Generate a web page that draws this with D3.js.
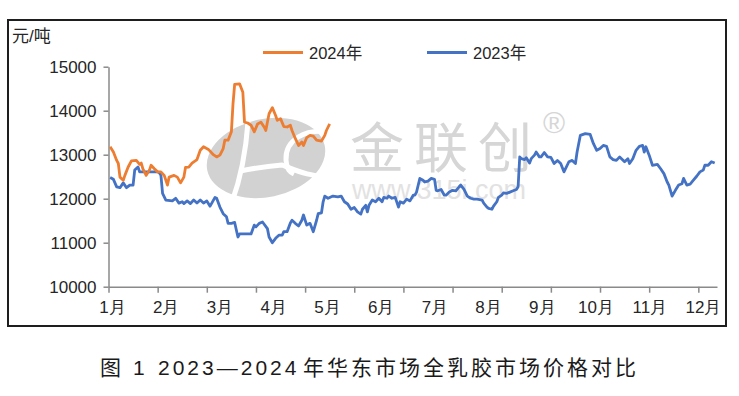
<!DOCTYPE html>
<html>
<head>
<meta charset="utf-8">
<script src="https://cdn.jsdelivr.net/npm/d3@7"></script>
<style>
  body { margin: 0; background: #fff; }
  svg { display: block; font-family: "Liberation Sans", "Noto Sans CJK SC", sans-serif; }
  .axis path, .axis line { stroke: #8a8a8a; stroke-width: 1.5; }
  .axis text { fill: #262626; font-size: 17px; }
  .line { fill: none; stroke-width: 2.8; stroke-linejoin: round; }
</style>
</head>
<body>
<svg id="chart" width="739" height="396"></svg>
<script>
// months on the x axis, values in 元/吨, x given as day of the year
const months = ["1月", "2月", "3月", "4月", "5月", "6月", "7月", "8月", "9月", "10月", "11月", "12月"];
const yTicks = [10000, 11000, 12000, 13000, 14000, 15000];
const seriesNames = ["2024年", "2023年"];

const days2024 = [1, 3, 5, 6, 7, 9, 10, 12, 14, 17, 19, 20, 21, 23, 25, 26, 28, 30, 32, 34,
  36, 37, 40, 42, 44, 46, 47, 49, 51, 54, 56, 58, 61, 64, 66, 68, 70, 71, 73, 75,
  76, 77, 80, 82, 83, 85, 87, 89, 91, 93, 95, 96, 98, 100, 102, 103, 105, 107, 109, 111,
  112, 114, 116, 118, 119, 121, 123, 125, 127, 130, 132, 133, 135];
const values2024 = [13180, 13060, 12870, 12800, 12490, 12420, 12530, 12720, 12860, 12870, 12780, 12810, 12680, 12530, 12650, 12760, 12680, 12610, 12610, 12530,
  12310, 12490, 12530, 12490, 12360, 12490, 12710, 12720, 12810, 12890, 13100, 13180, 13120, 13000, 12950, 12990, 13140, 13330, 13330, 13520,
  14160, 14600, 14610, 14420, 13740, 13720, 13670, 13520, 13700, 13740, 13630, 13550, 13930, 14070, 13890, 13780, 13820, 13640, 13630, 13670,
  13550, 13370, 13210, 13290, 13210, 13390, 13440, 13420, 13330, 13310, 13440, 13550, 13700];

const days2023 = [1, 3, 5, 7, 9, 11, 13, 15, 16, 18, 19, 30, 31, 32, 33, 35, 39, 41, 43, 45,
  46, 48, 50, 52, 54, 56, 58, 60, 62, 65, 66, 68, 70, 72, 73, 75, 77, 79, 80, 84,
  87, 89, 90, 92, 94, 97, 98, 100, 102, 104, 106, 107, 109, 111, 112, 114, 116, 118, 119, 121,
  123, 125, 127, 128, 130, 131, 132, 134, 137, 140, 142, 144, 146, 148, 150, 152, 154, 155, 157, 158,
  159, 161, 163, 165, 167, 168, 170, 171, 173, 175, 177, 178, 180, 182, 184, 186, 187, 188, 190, 192,
  193, 195, 197, 199, 200, 201, 203, 205, 206, 208, 210, 212, 214, 215, 217, 219, 221, 223, 225, 228,
  229, 231, 232, 234, 235, 237, 238, 240, 241, 243, 245, 247, 249, 250, 251, 252, 254, 255, 257, 258,
  260, 261, 263, 264, 266, 268, 270, 272, 274, 276, 278, 281, 283, 285, 286, 288, 291, 294, 296, 298,
  300, 302, 304, 306, 308, 310, 312, 315, 317, 318, 320, 322, 324, 326, 327, 328, 330, 332, 335, 337,
  339, 341, 342, 344, 346, 348, 350, 351, 353, 355, 357, 359, 361, 363, 364, 366, 368, 370];
const values2023 = [12480, 12440, 12270, 12250, 12360, 12250, 12310, 12310, 12650, 12720, 12610, 12610, 12590, 12530, 12120, 11970, 11950, 12010, 11900, 11930,
  11890, 11950, 11890, 11970, 11900, 11970, 11900, 11950, 11830, 12030, 12010, 11810, 11660, 11590, 11440, 11440, 11460, 11130, 11200, 11200,
  11200, 11400, 11360, 11440, 11470, 11320, 11130, 11000, 11100, 11170, 11170, 11250, 11250, 11450, 11510, 11440, 11380, 11510, 11630, 11400,
  11440, 11250, 11510, 11660, 11680, 11930, 12060, 12010, 12060, 12040, 12060, 11930, 11880, 11760, 11800, 11700, 11650, 11760, 11850, 11700,
  11850, 11970, 11930, 12010, 11930, 12030, 12010, 12060, 12010, 12030, 11810, 11930, 11900, 11990, 11950, 12080, 12080, 12150, 12460, 12420,
  12380, 12400, 12460, 12440, 12190, 12180, 12210, 12080, 12080, 12150, 12190, 12180, 12270, 12310, 12210, 12060, 12010, 11990, 11990, 11970,
  11900, 11810, 11780, 11760, 11830, 11930, 12030, 12080, 12130, 12120, 12150, 12180, 12210, 12270, 12950, 12910, 12890, 12930, 12810, 12910,
  12990, 13060, 12950, 12950, 13050, 12950, 12940, 12800, 12870, 12800, 12610, 12840, 12870, 12800, 13060, 13440, 13480, 13460, 13250, 13100,
  13140, 13210, 13190, 12950, 12890, 12870, 12950, 12840, 12910, 12800, 12910, 13100, 13190, 13210, 13060, 13180, 12990, 12760, 12780, 12680,
  12570, 12380, 12310, 12060, 12190, 12310, 12340, 12460, 12310, 12330, 12420, 12510, 12610, 12650, 12760, 12760, 12840, 12810];

const monthTickDays = d3.range(0, 361, 30);
const colors = { "2024年": "#ed7d31", "2023年": "#4472c4" };

const svg = d3.select("#chart");

const x = d3.scaleLinear().domain([0, 371.4]).range([108.5, 717]);
const y = d3.scaleLinear().domain([10000, 15000]).range([286.7, 66.7]);
const monthScale = d3.scalePoint().domain(months).range([112, 703]);

// frame
svg.append("rect")
  .attr("x", 8).attr("y", 20).attr("width", 718).attr("height", 306)
  .attr("fill", "#fff").attr("stroke", "#1e1e1e").attr("stroke-width", 2);

// watermark
const wm = svg.append("g");
wm.append("ellipse")
  .attr("cx", 266).attr("cy", 158).attr("rx", 60).attr("ry", 39)
  .attr("transform", "rotate(-12,266,158)")
  .attr("fill", "#d2d2d2");
wm.append("path")
  .attr("d", "M248,122 C246,150 240,180 232,202")
  .attr("stroke", "#fff").attr("stroke-width", 5).attr("fill", "none");
wm.append("path")
  .attr("d", "M240,171 C255,168 270,166 282,165 C295,170 312,178 330,176")
  .attr("stroke", "#fff").attr("stroke-width", 5).attr("fill", "none");
wm.append("path")
  .attr("d", "M330,132 C305,128 285,140 286,160 C287,170 290,172 294,174")
  .attr("stroke", "#fff").attr("stroke-width", 5).attr("fill", "none");
wm.append("text")
  .attr("x", 350).attr("y", 168)
  .attr("font-size", 54).attr("letter-spacing", 10)
  .attr("fill", "#d6d6d6")
  .attr("font-family", "Noto Sans CJK SC")
  .text("金联创");
wm.append("text")
  .attr("x", 352).attr("y", 199)
  .attr("font-size", 27)
  .attr("fill", "#e2e2e2")
  .text("www.315i.com");
wm.append("text")
  .attr("x", 543).attr("y", 133)
  .attr("font-size", 30)
  .attr("fill", "#d6d6d6")
  .text("®");

// axes
svg.append("g")
  .attr("class", "axis")
  .attr("transform", "translate(0,286.7)")
  .call(d3.axisBottom(x).tickValues(monthTickDays).tickSize(6).tickFormat("").tickSizeOuter(0));

svg.append("g")
  .attr("class", "axis")
  .attr("transform", "translate(0,286.7)")
  .call(d3.axisBottom(monthScale).tickSize(0).tickPadding(14))
  .call((g) => g.select(".domain").remove());

svg.append("g")
  .attr("class", "axis")
  .attr("transform", "translate(108.5,0)")
  .call(d3.axisLeft(y).tickValues(yTicks).tickSize(5).tickPadding(7).tickSizeOuter(0).tickFormat(d3.format("d")));

svg.append("text")
  .attr("x", 12).attr("y", 42)
  .attr("font-size", 17).attr("fill", "#262626")
  .text("元/吨");

// lines
const line = d3.line()
  .x((d) => x(d[0]))
  .y((d) => y(d[1]));

svg.append("path")
  .attr("class", "line")
  .attr("stroke", colors["2023年"])
  .attr("d", line(d3.zip(days2023, values2023)));

svg.append("path")
  .attr("class", "line")
  .attr("stroke", colors["2024年"])
  .attr("d", line(d3.zip(days2024, values2024)));

// legend
const legendX = [263, 427];
const legend = svg.append("g");
seriesNames.forEach((name, i) => {
  legend.append("line")
    .attr("x1", legendX[i]).attr("x2", legendX[i] + 40)
    .attr("y1", 52.5).attr("y2", 52.5)
    .attr("stroke", colors[name]).attr("stroke-width", 2.8);
  legend.append("text")
    .attr("x", legendX[i] + 46).attr("y", 58.5)
    .attr("font-size", 16.5).attr("fill", "#262626")
    .text(name);
});

// caption
const caption = svg.append("text")
  .attr("y", 375)
  .attr("font-size", 21)
  .attr("fill", "#1a1a1a");
caption.append("tspan").attr("x", 100).text("图");
caption.append("tspan").attr("x", 133).text("1");
caption.append("tspan").attr("x", 158).attr("letter-spacing", 3).text("2023—2024");
caption.append("tspan").attr("x", 303).attr("letter-spacing", 3).text("年华东市场全乳胶市场价格对比");
</script>
</body>
</html>
